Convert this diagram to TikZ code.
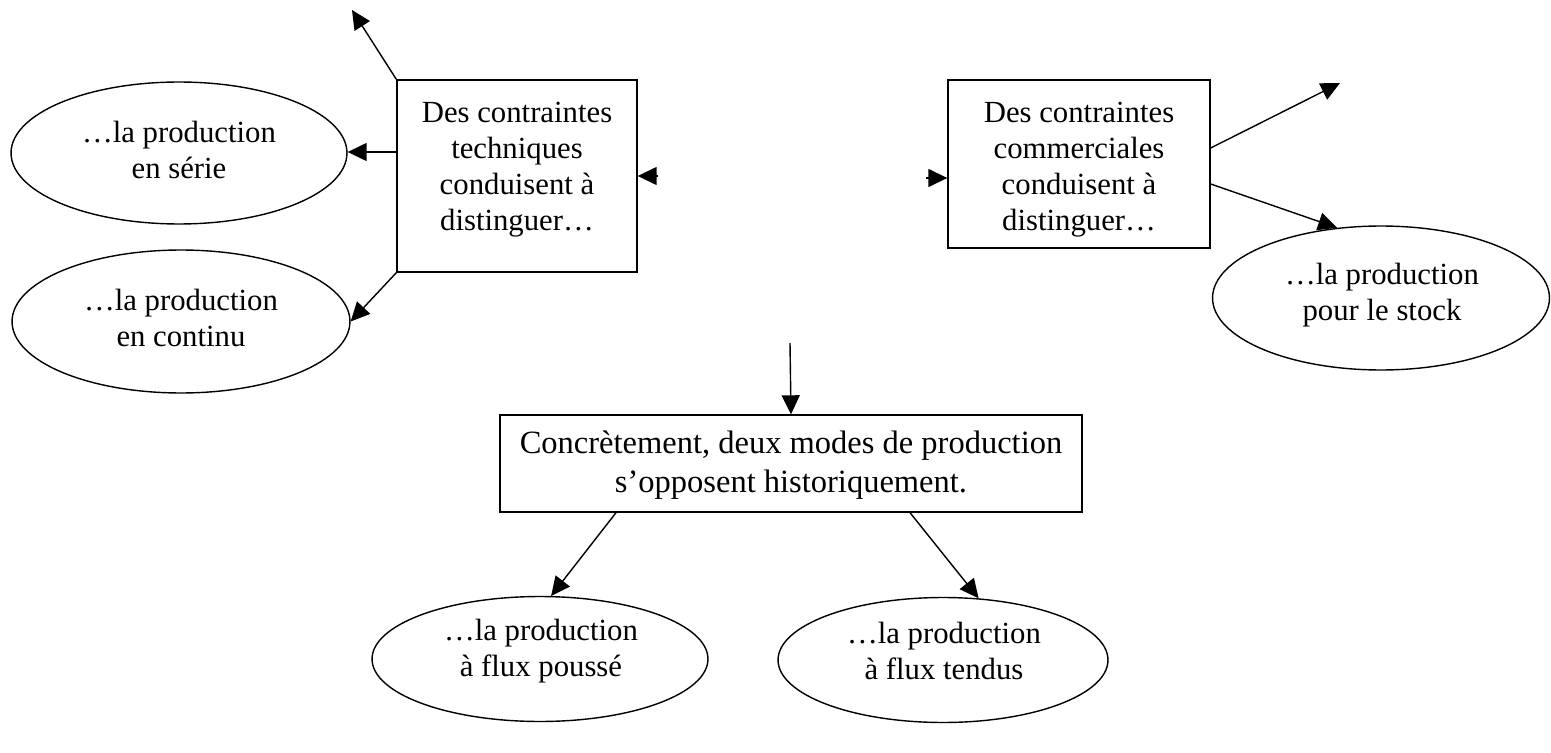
\documentclass[tikz,border=0pt]{standalone}
\usepackage{fontspec}
\setmainfont{Liberation Serif}
\usetikzlibrary{arrows.meta,shapes.geometric}
\tikzset{
  boite/.style={draw, rectangle, inner sep=0pt},
  bulle/.style={draw, ellipse, inner sep=0pt},
  texte/.style={align=center, inner sep=0pt},
  fleche/.style={-{Triangle[length=0.38cm,width=0.36cm]}},
}
\begin{document}
\begin{tikzpicture}[x=0.02cm, y=-0.02cm, line width=0.8pt, font=\fontsize{17.5}{20.5}\selectfont]
\useasboundingbox (0,0) rectangle (1551,753);
% boites
\node[boite, minimum width=4.8cm, minimum height=3.84cm] (tech) at (517,176) {};
\node[texte] (tech-t) at (517,170) {Des contraintes\\techniques\\conduisent à\\distinguer…};
\node[boite, minimum width=5.24cm, minimum height=3.36cm] (comm) at (1079,164) {};
\node[texte] (comm-t) at (1079,170) {Des contraintes\\commerciales\\conduisent à\\distinguer…};
\node[boite, minimum width=11.64cm, minimum height=1.94cm] (concret) at (791,463.5) {};
\node[texte, font=\fontsize{18.5}{22.5}\selectfont] (concret-t) at (791,465) {Concrètement, deux modes de production\\s’opposent historiquement.};
% bulles
\node[bulle, minimum width=6.72cm, minimum height=2.84cm] (serie) at (179,153) {};
\node[texte] (serie-t) at (179,150) {…la production\\en série};
\node[bulle, minimum width=6.76cm, minimum height=2.86cm] (continu) at (181,321.5) {};
\node[texte] (continu-t) at (181,318) {…la production\\en continu};
\node[bulle, minimum width=6.74cm, minimum height=2.88cm] (stock) at (1381,298) {};
\node[texte] (stock-t) at (1382,295) {…la production\\pour le stock};
\node[bulle, minimum width=6.72cm, minimum height=2.5cm] (pousse) at (540,659) {};
\node[texte] (pousse-t) at (541,651) {…la production\\à flux poussé};
\node[bulle, minimum width=6.6cm, minimum height=2.5cm] (tendus) at (943,660) {};
\node[texte] (tendus-t) at (944,651) {…la production\\à flux tendus};
% bouts libres
\coordinate (haut) at (352,10);
\coordinate (gauche) at (658,176);
\coordinate (droite) at (926,178);
\coordinate (coin) at (1340,83);
\coordinate (milieu) at (790,343);
% fleches
\draw[fleche] (tech.north west) -- (haut);
\draw[fleche] (tech.west |- 0,152) -- (serie.east |- 0,152);
\draw[fleche] (tech.south west) -- (continu.east);
\draw[fleche] (gauche) -- (tech.east |- gauche);
\draw[fleche] (droite) -- (comm.west |- droite);
\draw[fleche] (comm.east |- 0,148) -- (coin);
\draw[fleche] (comm.east |- 0,184) -- (stock.122);
\draw[fleche] (milieu) -- (concret.north);
\draw[fleche] (concret.south -| 616,0) -- (pousse.80);
\draw[fleche] (concret.south -| 910,0) -- (tendus.60);
\end{tikzpicture}
\end{document}
